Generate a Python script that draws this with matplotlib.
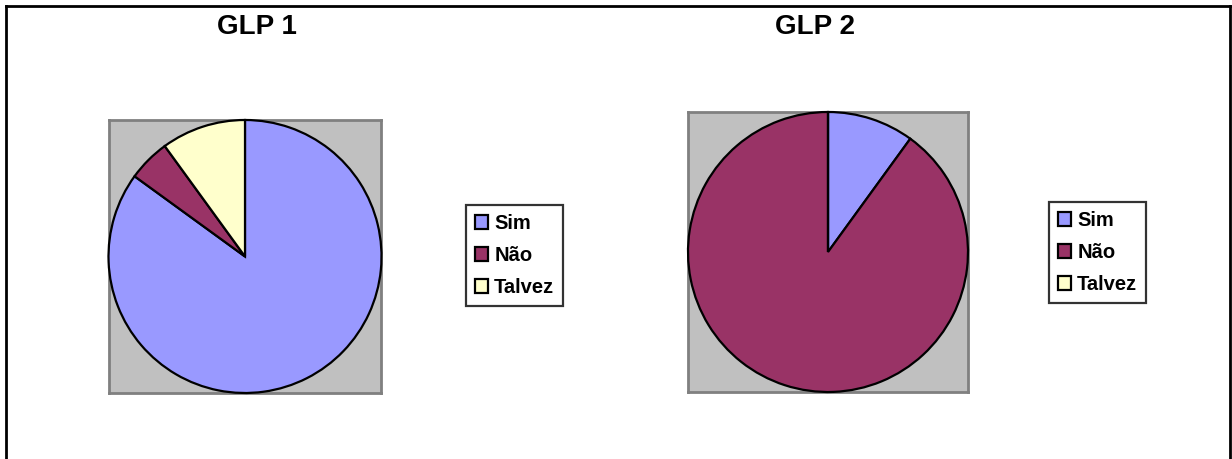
import matplotlib
matplotlib.use("Agg")
import matplotlib.pyplot as plt
from matplotlib.patches import Patch
from matplotlib.lines import Line2D

plt.rcParams['font.family'] = ['Liberation Sans', 'DejaVu Sans']

# Data
categories = ['Sim', 'Não', 'Talvez']
glp1 = [85, 5, 10]
glp2 = [10, 90, 0]
titles = ['GLP 1', 'GLP 2']
colors = ['#9999FF', '#993366', '#FFFFCC']

W, H = 1232, 459
fig = plt.figure(figsize=(W / 100, H / 100), dpi=100)
fig.patch.set_facecolor('white')


def px_axes(x0, y0, x1, y1):
    # pixel box (top-left origin) -> figure axes
    return fig.add_axes([x0 / W, 1 - y1 / H, (x1 - x0) / W, (y1 - y0) / H])


def draw_pie(box, values, title, title_xy, leg_xy):
    ax = px_axes(*box)
    wedges, _ = ax.pie(values, colors=colors, startangle=90, counterclock=False,
                       radius=1, frame=True,
                       wedgeprops=dict(edgecolor='black', linewidth=1.6))
    for w in wedges:
        w.set_clip_on(False)
        w.set_zorder(3)
    ax.set_xlim(-1.0, 1.0)
    ax.set_ylim(-1.0, 1.0)
    ax.set_xticks([])
    ax.set_yticks([])
    ax.set_facecolor('#C0C0C0')
    for s in ax.spines.values():
        s.set_edgecolor('#808080')
        s.set_linewidth(2)
        s.set_zorder(1)
    fig.text(title_xy[0] / W, 1 - title_xy[1] / H, title, ha='center', va='center',
             fontsize=20, fontweight='bold')
    handles = [Patch(facecolor=c, edgecolor='black', linewidth=1.6) for c in colors]
    leg = fig.legend(handles, categories, loc='upper left',
                     bbox_to_anchor=(leg_xy[0] / W, 1 - leg_xy[1] / H),
                     borderaxespad=0, fancybox=False, frameon=True,
                     handlelength=0.65, handleheight=0.65, handletextpad=0.3,
                     labelspacing=0.65, borderpad=0.45,
                     prop=dict(size=14.5, weight='bold'))
    leg.get_frame().set_edgecolor('black')
    leg.get_frame().set_linewidth(1.6)


draw_pie((108, 120, 382, 393), glp1, titles[0], (257, 27), (466, 205))
draw_pie((688, 112, 968, 392), glp2, titles[1], (815, 27), (1049, 202))

# outer chart border (bottom edge is cut off in the image)
for xs, ys in [((6, 6), (6, H + 5)), ((6, 1230), (6, 6)), ((1230, 1230), (6, H + 5))]:
    fig.add_artist(Line2D([x / W for x in xs], [1 - y / H for y in ys],
                          color='black', linewidth=2, transform=fig.transFigure))

fig.savefig('out.png', dpi=100)
